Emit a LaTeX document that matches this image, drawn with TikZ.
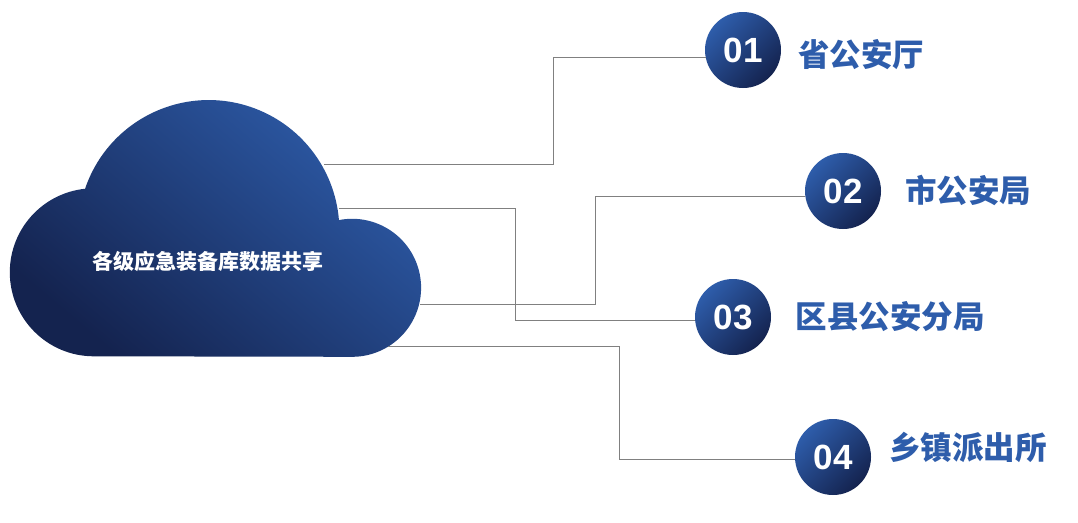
\documentclass[tikz,border=0pt]{standalone}
\usepackage{fontspec}
\setmainfont{Liberation Sans}
\newfontfamily\cjk{Noto Sans CJK SC}
\usetikzlibrary{positioning}
\definecolor{navy}{HTML}{14234F}
\definecolor{royal}{HTML}{2E5DAB}
\definecolor{wire}{HTML}{808080}
\tikzset{badge/.style={circle,minimum size=76pt,inner sep=0pt,top color=royal,bottom color=navy,shading angle=45,
  text=white,font=\fontsize{35}{35}\selectfont\bfseries},
  place/.style={text=royal,inner sep=0pt,font=\fontsize{31.5}{36}\selectfont\cjk\bfseries},
  link/.style={draw=wire,line width=1pt}}
\begin{document}
\begin{tikzpicture}[x=1pt,y=-1pt]
\useasboundingbox (0,0) rectangle (1078,522);
\path[top color=royal,bottom color=navy,shading angle=-40] (85,189) arc[start angle=198.6,end angle=355.35,radius=130.6]
  arc[start angle=259,end angle=450,radius=69] -- (93.8,356.3) arc[start angle=90,end angle=264,radius=84] -- cycle;
\node[text=white,inner sep=0pt,font=\fontsize{21}{24}\selectfont\cjk\bfseries] (cloud) at (207.5,261) {各级应急装备库数据共享};
\coordinate (p1) at (324,164);
\coordinate (p2) at (420,304);
\coordinate (p3) at (339,208);
\coordinate (p4) at (388,346);
\node[badge] (n1) at (743,50) {01};
\node[badge] (n2) at (843,191) {02};
\node[badge] (n3) at (733,317) {03};
\node[badge] (n4) at (833,457) {04};
\node[place] (t1) at (861,55) {省公安厅};
\node[place] (t2) at (968,190) {市公安局};
\node[place] (t3) at (890,317) {区县公安分局};
\node[place] (t4) at (968,447) {乡镇派出所};
\draw[link] (p1)--++(229,0)|-(n1.192);
\draw[link] (p2)--++(175,0)|-(n2.188);
\draw[link] (p3)--++(176,0)|-(n3.186);
\draw[link] (p4)--++(231,0)|-(n4.183);
\end{tikzpicture}
\end{document}
